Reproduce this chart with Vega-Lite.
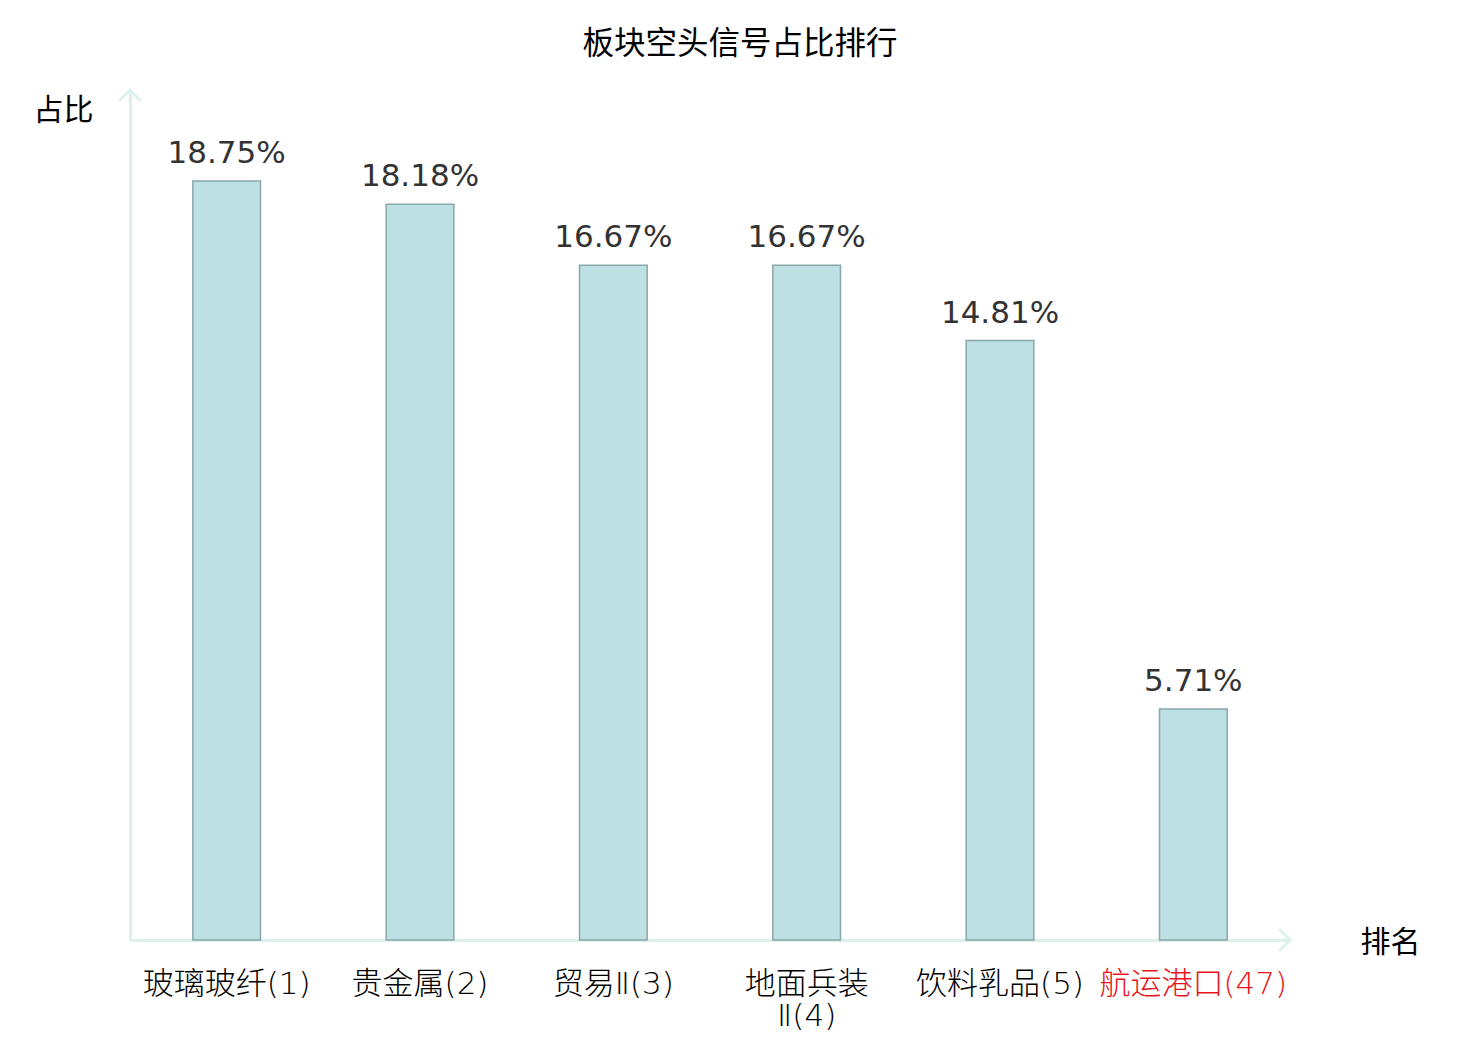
{
  "$schema": "https://vega.github.io/schema/vega-lite/v6.json",
  "autosize": {"type": "none"},
  "width": 1160,
  "height": 850,
  "padding": {"left": 130, "top": 90, "right": 190, "bottom": 100},
  "background": "white",
  "title": {
    "text": "板块空头信号占比排行",
    "font": "Noto Sans CJK SC",
    "fontSize": 31.5,
    "fontWeight": "normal",
    "color": "black",
    "anchor": "middle",
    "baseline": "bottom",
    "dx": 30,
    "offset": -8
  },
  "datasets": {
    "sectors": [
      {"sector": "玻璃玻纤(1)", "ratio": 18.75, "text": "18.75%"},
      {"sector": "贵金属(2)", "ratio": 18.18, "text": "18.18%"},
      {"sector": "贸易Ⅱ(3)", "ratio": 16.67, "text": "16.67%"},
      {"sector": "地面兵装Ⅱ(4)", "ratio": 16.67, "text": "16.67%"},
      {"sector": "饮料乳品(5)", "ratio": 14.81, "text": "14.81%"},
      {"sector": "航运港口(47)", "ratio": 5.71, "text": "5.71%"}
    ],
    "arrows": [
      {"ax": 0, "ay": 21, "dir": "M-1,1L0,0L1,1"},
      {"ax": 1, "ay": 0, "dir": "M-1,-1L0,0L-1,1"}
    ]
  },
  "layer": [
    {
      "data": {"name": "sectors"},
      "encoding": {
        "x": {
          "field": "sector",
          "type": "nominal",
          "sort": null,
          "scale": {"paddingInner": 0.65, "paddingOuter": 0.325},
          "axis": {
            "title": "排名",
            "titleFont": "Noto Sans CJK SC",
            "titleFontSize": 30,
            "titleFontWeight": "normal",
            "titleColor": "black",
            "titleAngle": 0,
            "titleX": 1260,
            "titleY": 2,
            "titleAlign": "center",
            "titleBaseline": "middle",
            "labelAngle": 0,
            "labelFont": "DejaVu Sans, Noto Sans CJK SC",
            "labelFontSize": 31,
            "labelFontWeight": 200,
            "labelPadding": 29,
            "labelLineHeight": 32,
            "labelBaseline": "top",
            "labelLimit": 0,
            "labelOverlap": false,
            "labelExpr": "datum.value == '地面兵装Ⅱ(4)' ? ['地面兵装', 'Ⅱ(4)'] : datum.value",
            "labelColor": {
              "condition": {"test": "datum.value == '航运港口(47)'", "value": "#e8141c"},
              "value": "black"
            },
            "ticks": false,
            "domainColor": "#dcf0ee",
            "domainWidth": 3
          }
        },
        "y": {
          "field": "ratio",
          "type": "quantitative",
          "scale": {"domain": [0, 21], "nice": false},
          "axis": {
            "title": "占比",
            "titleFont": "Noto Sans CJK SC",
            "titleFontSize": 30,
            "titleFontWeight": "normal",
            "titleColor": "black",
            "titleAngle": 0,
            "titleX": -67,
            "titleY": 20,
            "titleAlign": "center",
            "titleBaseline": "middle",
            "labels": false,
            "ticks": false,
            "grid": false,
            "domainColor": "#dcf0ee",
            "domainWidth": 3
          }
        }
      },
      "layer": [
        {
          "mark": {"type": "bar", "fill": "#bce0e3", "stroke": "#8aa7a9", "strokeWidth": 1.5}
        },
        {
          "mark": {
            "type": "text",
            "font": "DejaVu Sans",
            "fontSize": 31,
            "color": "#333333",
            "baseline": "alphabetic",
            "dy": -18
          },
          "encoding": {
            "text": {"field": "text"}
          }
        }
      ]
    },
    {
      "data": {"name": "arrows"},
      "mark": {"type": "point", "filled": false, "stroke": "#dcf0ee", "strokeWidth": 3, "size": 480, "opacity": 1},
      "encoding": {
        "x": {"field": "ax", "type": "quantitative", "scale": {"domain": [0, 1], "nice": false, "zero": false}, "axis": null},
        "y": {"field": "ay", "type": "quantitative"},
        "shape": {"field": "dir", "type": "nominal", "scale": null, "legend": null}
      }
    }
  ],
  "resolve": {"scale": {"x": "independent"}, "axis": {"x": "independent"}},
  "config": {"view": {"stroke": null}}
}
